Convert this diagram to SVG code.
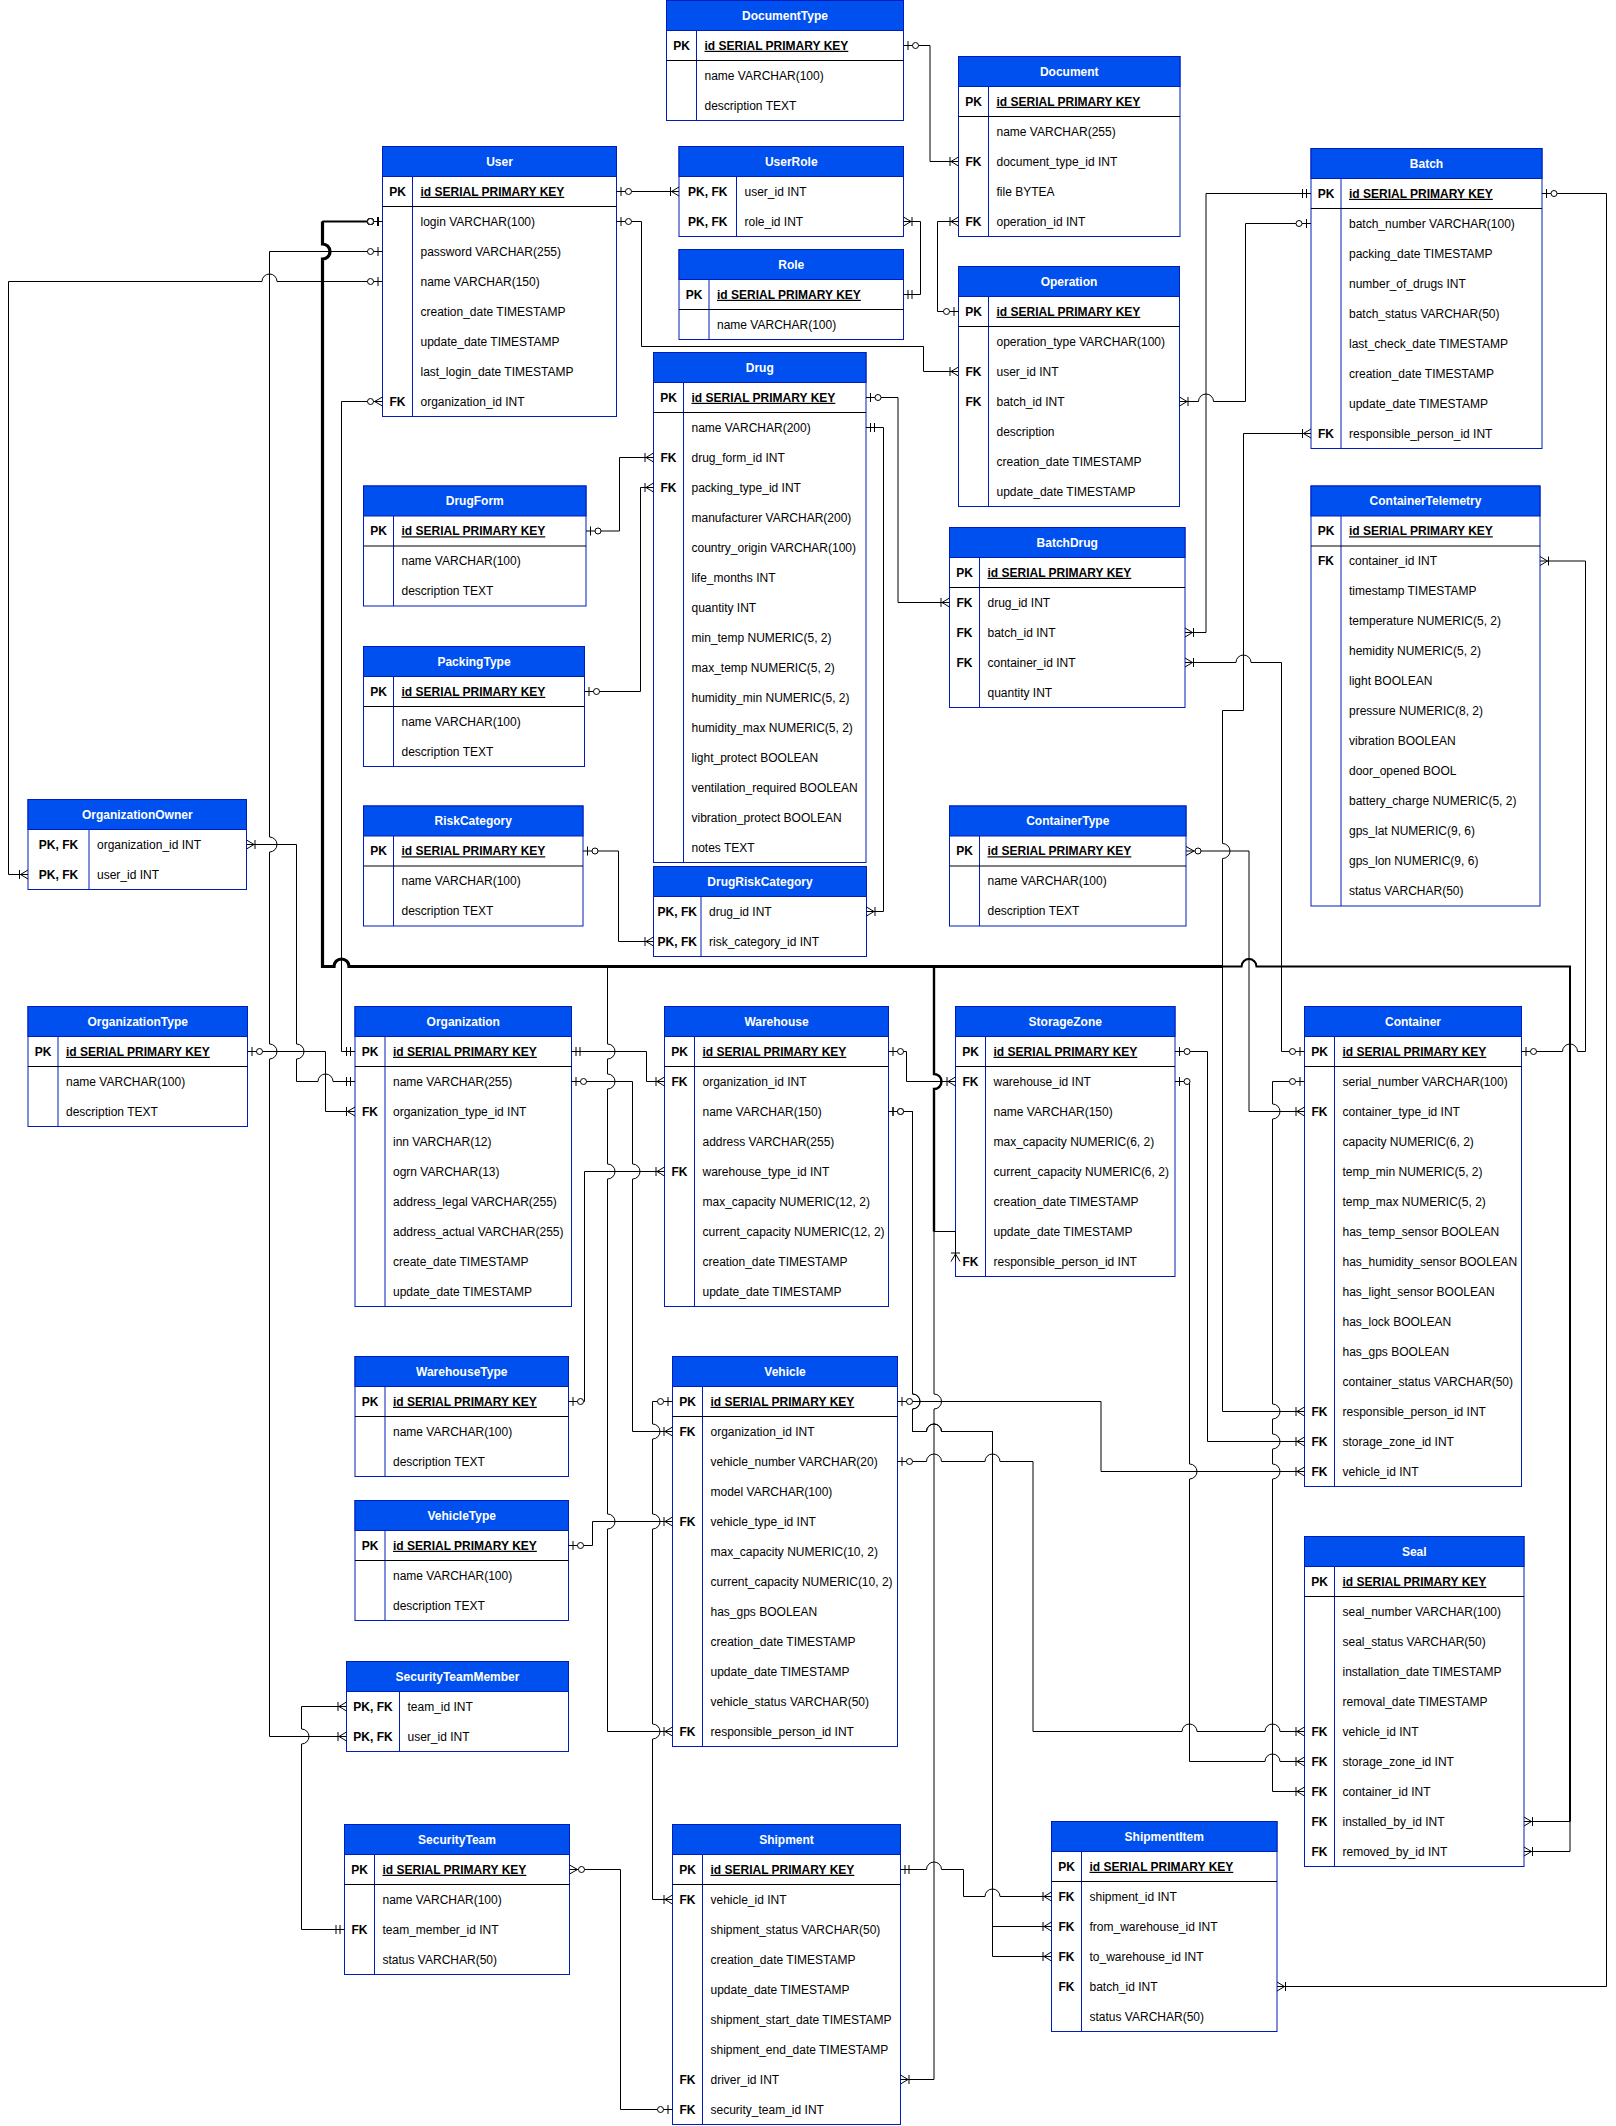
<svg xmlns="http://www.w3.org/2000/svg" width="1616" height="2126" viewBox="0 0 1616 2126">
<style>
.hdr{fill:#0050ef;stroke:#001dbc;stroke-width:1}
.tbl{fill:#fff;stroke:#001dbc;stroke-width:1}
.kd{stroke:#001dbc;stroke-width:1}
.sep{stroke:#000;stroke-width:1}
text{font-family:"Liberation Sans",Arial,Helvetica,sans-serif;font-size:12px;fill:#000}
.ht{font-weight:bold;fill:#fff;text-anchor:middle}
.k{font-weight:bold;text-anchor:middle}
.pk{font-weight:bold;text-decoration:underline}
.e{fill:none;stroke:#000;stroke-width:1}
.tr{fill:none;stroke:#000}
</style>
<defs>
<marker id="oneOpt" markerWidth="1" markerHeight="1" refX="0" refY="0" orient="auto-start-reverse" markerUnits="userSpaceOnUse" overflow="visible"><path d="M-4.5,-4.5V4.5" fill="none" stroke="#000"/><circle cx="-12" cy="0" r="3" fill="#fff" stroke="#000"/></marker>
<marker id="oneMand" markerWidth="1" markerHeight="1" refX="0" refY="0" orient="auto-start-reverse" markerUnits="userSpaceOnUse" overflow="visible"><path d="M-4.5,-4.5V4.5M-8.5,-4.5V4.5" fill="none" stroke="#000"/></marker>
<marker id="manyMand" markerWidth="1" markerHeight="1" refX="0" refY="0" orient="auto-start-reverse" markerUnits="userSpaceOnUse" overflow="visible"><path d="M0,-4.5L-7.5,0L0,4.5M-8.5,-4.5V4.5" fill="none" stroke="#000"/></marker>
<marker id="manyOpt" markerWidth="1" markerHeight="1" refX="0" refY="0" orient="auto-start-reverse" markerUnits="userSpaceOnUse" overflow="visible"><path d="M0,-4.5L-8,0L0,4.5" fill="none" stroke="#000"/><circle cx="-12" cy="0" r="3" fill="#fff" stroke="#000"/></marker>
</defs>
<rect x="0" y="0" width="1616" height="2126" fill="#fff"/>

<g id="DocumentType">
<rect class="tbl" x="666.5" y="0.5" width="237" height="120"/><rect class="hdr" x="666.5" y="0.5" width="237" height="30"/>
<text class="ht" x="785" y="19.8">DocumentType</text>
<line class="kd" x1="696.5" y1="30.5" x2="696.5" y2="120.5"/><line class="sep" x1="666.5" y1="60.5" x2="903.5" y2="60.5"/>
<text class="k" x="681.5" y="49.8">PK</text><text class="pk" x="704.5" y="49.8">id SERIAL PRIMARY KEY</text>
<text x="704.5" y="79.8">name VARCHAR(100)</text><text x="704.5" y="109.8">description TEXT</text>
</g>

<g id="Document">
<rect class="tbl" x="958.5" y="56.5" width="221.5" height="180"/><rect class="hdr" x="958.5" y="56.5" width="221.5" height="30"/>
<text class="ht" x="1069.25" y="75.8">Document</text>
<line class="kd" x1="988.5" y1="86.5" x2="988.5" y2="236.5"/><line class="sep" x1="958.5" y1="116.5" x2="1180" y2="116.5"/>
<text class="k" x="973.5" y="105.8">PK</text><text class="pk" x="996.5" y="105.8">id SERIAL PRIMARY KEY</text>
<text x="996.5" y="135.8">name VARCHAR(255)</text>
<text class="k" x="973.5" y="165.8">FK</text><text x="996.5" y="165.8">document_type_id INT</text>
<text x="996.5" y="195.8">file BYTEA</text>
<text class="k" x="973.5" y="225.8">FK</text><text x="996.5" y="225.8">operation_id INT</text>
</g>

<g id="User">
<rect class="tbl" x="382.5" y="146.5" width="234" height="270"/><rect class="hdr" x="382.5" y="146.5" width="234" height="30"/>
<text class="ht" x="499.5" y="165.8">User</text>
<line class="kd" x1="412.5" y1="176.5" x2="412.5" y2="416.5"/><line class="sep" x1="382.5" y1="206.5" x2="616.5" y2="206.5"/>
<text class="k" x="397.5" y="195.8">PK</text><text class="pk" x="420.5" y="195.8">id SERIAL PRIMARY KEY</text>
<text x="420.5" y="225.8">login VARCHAR(100)</text>
<text x="420.5" y="255.8">password VARCHAR(255)</text>
<text x="420.5" y="285.8">name VARCHAR(150)</text>
<text x="420.5" y="315.8">creation_date TIMESTAMP</text>
<text x="420.5" y="345.8">update_date TIMESTAMP</text>
<text x="420.5" y="375.8">last_login_date TIMESTAMP</text>
<text class="k" x="397.5" y="405.8">FK</text><text x="420.5" y="405.8">organization_id INT</text>
</g>

<g id="UserRole">
<rect class="tbl" x="679" y="146.5" width="224.5" height="90"/><rect class="hdr" x="679" y="146.5" width="224.5" height="30"/>
<text class="ht" x="791.25" y="165.8">UserRole</text>
<line class="kd" x1="736.5" y1="176.5" x2="736.5" y2="236.5"/>
<text class="k" x="707.75" y="195.8">PK, FK</text><text x="744.5" y="195.8">user_id INT</text>
<text class="k" x="707.75" y="225.8">PK, FK</text><text x="744.5" y="225.8">role_id INT</text>
</g>

<g id="Role">
<rect class="tbl" x="679" y="249.5" width="224.5" height="90"/><rect class="hdr" x="679" y="249.5" width="224.5" height="30"/>
<text class="ht" x="791.25" y="268.8">Role</text>
<line class="kd" x1="709" y1="279.5" x2="709" y2="339.5"/><line class="sep" x1="679" y1="309.5" x2="903.5" y2="309.5"/>
<text class="k" x="694" y="298.8">PK</text><text class="pk" x="717" y="298.8">id SERIAL PRIMARY KEY</text>
<text x="717" y="328.8">name VARCHAR(100)</text>
</g>

<g id="Operation">
<rect class="tbl" x="958.5" y="266.5" width="221" height="240"/><rect class="hdr" x="958.5" y="266.5" width="221" height="30"/>
<text class="ht" x="1069" y="285.8">Operation</text>
<line class="kd" x1="988.5" y1="296.5" x2="988.5" y2="506.5"/><line class="sep" x1="958.5" y1="326.5" x2="1179.5" y2="326.5"/>
<text class="k" x="973.5" y="315.8">PK</text><text class="pk" x="996.5" y="315.8">id SERIAL PRIMARY KEY</text>
<text x="996.5" y="345.8">operation_type VARCHAR(100)</text>
<text class="k" x="973.5" y="375.8">FK</text><text x="996.5" y="375.8">user_id INT</text>
<text class="k" x="973.5" y="405.8">FK</text><text x="996.5" y="405.8">batch_id INT</text>
<text x="996.5" y="435.8">description</text>
<text x="996.5" y="465.8">creation_date TIMESTAMP</text>
<text x="996.5" y="495.8">update_date TIMESTAMP</text>
</g>

<g id="Batch">
<rect class="tbl" x="1311" y="148.5" width="231" height="300"/><rect class="hdr" x="1311" y="148.5" width="231" height="30"/>
<text class="ht" x="1426.5" y="167.8">Batch</text>
<line class="kd" x1="1341" y1="178.5" x2="1341" y2="448.5"/><line class="sep" x1="1311" y1="208.5" x2="1542" y2="208.5"/>
<text class="k" x="1326" y="197.8">PK</text><text class="pk" x="1349" y="197.8">id SERIAL PRIMARY KEY</text>
<text x="1349" y="227.8">batch_number VARCHAR(100)</text>
<text x="1349" y="257.8">packing_date TIMESTAMP</text>
<text x="1349" y="287.8">number_of_drugs INT</text>
<text x="1349" y="317.8">batch_status VARCHAR(50)</text>
<text x="1349" y="347.8">last_check_date TIMESTAMP</text>
<text x="1349" y="377.8">creation_date TIMESTAMP</text>
<text x="1349" y="407.8">update_date TIMESTAMP</text>
<text class="k" x="1326" y="437.8">FK</text><text x="1349" y="437.8">responsible_person_id INT</text>
</g>

<g id="Drug">
<rect class="tbl" x="653.5" y="352.5" width="212.5" height="510"/><rect class="hdr" x="653.5" y="352.5" width="212.5" height="30"/>
<text class="ht" x="759.75" y="371.8">Drug</text>
<line class="kd" x1="683.5" y1="382.5" x2="683.5" y2="862.5"/><line class="sep" x1="653.5" y1="412.5" x2="866" y2="412.5"/>
<text class="k" x="668.5" y="401.8">PK</text><text class="pk" x="691.5" y="401.8">id SERIAL PRIMARY KEY</text>
<text x="691.5" y="431.8">name VARCHAR(200)</text>
<text class="k" x="668.5" y="461.8">FK</text><text x="691.5" y="461.8">drug_form_id INT</text>
<text class="k" x="668.5" y="491.8">FK</text><text x="691.5" y="491.8">packing_type_id INT</text>
<text x="691.5" y="521.8">manufacturer VARCHAR(200)</text>
<text x="691.5" y="551.8">country_origin VARCHAR(100)</text>
<text x="691.5" y="581.8">life_months INT</text>
<text x="691.5" y="611.8">quantity INT</text>
<text x="691.5" y="641.8">min_temp NUMERIC(5, 2)</text>
<text x="691.5" y="671.8">max_temp NUMERIC(5, 2)</text>
<text x="691.5" y="701.8">humidity_min NUMERIC(5, 2)</text>
<text x="691.5" y="731.8">humidity_max NUMERIC(5, 2)</text>
<text x="691.5" y="761.8">light_protect BOOLEAN</text>
<text x="691.5" y="791.8">ventilation_required BOOLEAN</text>
<text x="691.5" y="821.8">vibration_protect BOOLEAN</text>
<text x="691.5" y="851.8">notes TEXT</text>
</g>

<g id="DrugForm">
<rect class="tbl" x="363.5" y="486" width="222.5" height="120"/><rect class="hdr" x="363.5" y="486" width="222.5" height="30"/>
<text class="ht" x="474.75" y="505.3">DrugForm</text>
<line class="kd" x1="393.5" y1="516" x2="393.5" y2="606"/><line class="sep" x1="363.5" y1="546" x2="586" y2="546"/>
<text class="k" x="378.5" y="535.3">PK</text><text class="pk" x="401.5" y="535.3">id SERIAL PRIMARY KEY</text>
<text x="401.5" y="565.3">name VARCHAR(100)</text><text x="401.5" y="595.3">description TEXT</text>
</g>

<g id="PackingType">
<rect class="tbl" x="363.5" y="646.5" width="221" height="120"/><rect class="hdr" x="363.5" y="646.5" width="221" height="30"/>
<text class="ht" x="474" y="665.8">PackingType</text>
<line class="kd" x1="393.5" y1="676.5" x2="393.5" y2="766.5"/><line class="sep" x1="363.5" y1="706.5" x2="584.5" y2="706.5"/>
<text class="k" x="378.5" y="695.8">PK</text><text class="pk" x="401.5" y="695.8">id SERIAL PRIMARY KEY</text>
<text x="401.5" y="725.8">name VARCHAR(100)</text><text x="401.5" y="755.8">description TEXT</text>
</g>

<g id="RiskCategory">
<rect class="tbl" x="363.5" y="806" width="219.5" height="120"/><rect class="hdr" x="363.5" y="806" width="219.5" height="30"/>
<text class="ht" x="473.25" y="825.3">RiskCategory</text>
<line class="kd" x1="393.5" y1="836" x2="393.5" y2="926"/><line class="sep" x1="363.5" y1="866" x2="583" y2="866"/>
<text class="k" x="378.5" y="855.3">PK</text><text class="pk" x="401.5" y="855.3">id SERIAL PRIMARY KEY</text>
<text x="401.5" y="885.3">name VARCHAR(100)</text><text x="401.5" y="915.3">description TEXT</text>
</g>

<g id="DrugRiskCategory">
<rect class="tbl" x="653.5" y="866.5" width="213" height="90"/><rect class="hdr" x="653.5" y="866.5" width="213" height="30"/>
<text class="ht" x="760" y="885.8">DrugRiskCategory</text>
<line class="kd" x1="701" y1="896.5" x2="701" y2="956.5"/>
<text class="k" x="677.25" y="915.8">PK, FK</text><text x="709" y="915.8">drug_id INT</text>
<text class="k" x="677.25" y="945.8">PK, FK</text><text x="709" y="945.8">risk_category_id INT</text>
</g>

<g id="BatchDrug">
<rect class="tbl" x="949.5" y="527.5" width="235.5" height="180"/><rect class="hdr" x="949.5" y="527.5" width="235.5" height="30"/>
<text class="ht" x="1067.25" y="546.8">BatchDrug</text>
<line class="kd" x1="979.5" y1="557.5" x2="979.5" y2="707.5"/><line class="sep" x1="949.5" y1="587.5" x2="1185" y2="587.5"/>
<text class="k" x="964.5" y="576.8">PK</text><text class="pk" x="987.5" y="576.8">id SERIAL PRIMARY KEY</text>
<text class="k" x="964.5" y="606.8">FK</text><text x="987.5" y="606.8">drug_id INT</text>
<text class="k" x="964.5" y="636.8">FK</text><text x="987.5" y="636.8">batch_id INT</text>
<text class="k" x="964.5" y="666.8">FK</text><text x="987.5" y="666.8">container_id INT</text>
<text x="987.5" y="696.8">quantity INT</text>
</g>

<g id="ContainerTelemetry">
<rect class="tbl" x="1311" y="486" width="229" height="420"/><rect class="hdr" x="1311" y="486" width="229" height="30"/>
<text class="ht" x="1425.5" y="505.3">ContainerTelemetry</text>
<line class="kd" x1="1341" y1="516" x2="1341" y2="906"/><line class="sep" x1="1311" y1="546" x2="1540" y2="546"/>
<text class="k" x="1326" y="535.3">PK</text><text class="pk" x="1349" y="535.3">id SERIAL PRIMARY KEY</text>
<text class="k" x="1326" y="565.3">FK</text><text x="1349" y="565.3">container_id INT</text>
<text x="1349" y="595.3">timestamp TIMESTAMP</text>
<text x="1349" y="625.3">temperature NUMERIC(5, 2)</text>
<text x="1349" y="655.3">hemidity NUMERIC(5, 2)</text>
<text x="1349" y="685.3">light BOOLEAN</text>
<text x="1349" y="715.3">pressure NUMERIC(8, 2)</text>
<text x="1349" y="745.3">vibration BOOLEAN</text>
<text x="1349" y="775.3">door_opened BOOL</text>
<text x="1349" y="805.3">battery_charge NUMERIC(5, 2)</text>
<text x="1349" y="835.3">gps_lat NUMERIC(9, 6)</text>
<text x="1349" y="865.3">gps_lon NUMERIC(9, 6)</text>
<text x="1349" y="895.3">status VARCHAR(50)</text>
</g>

<g id="ContainerType">
<rect class="tbl" x="949.5" y="806" width="236.5" height="120"/><rect class="hdr" x="949.5" y="806" width="236.5" height="30"/>
<text class="ht" x="1067.75" y="825.3">ContainerType</text>
<line class="kd" x1="979.5" y1="836" x2="979.5" y2="926"/><line class="sep" x1="949.5" y1="866" x2="1186" y2="866"/>
<text class="k" x="964.5" y="855.3">PK</text><text class="pk" x="987.5" y="855.3">id SERIAL PRIMARY KEY</text>
<text x="987.5" y="885.3">name VARCHAR(100)</text><text x="987.5" y="915.3">description TEXT</text>
</g>

<g id="OrganizationOwner">
<rect class="tbl" x="28" y="799.5" width="218.5" height="90"/><rect class="hdr" x="28" y="799.5" width="218.5" height="30"/>
<text class="ht" x="137.25" y="818.8">OrganizationOwner</text>
<line class="kd" x1="89" y1="829.5" x2="89" y2="889.5"/>
<text class="k" x="58.5" y="848.8">PK, FK</text><text x="97" y="848.8">organization_id INT</text>
<text class="k" x="58.5" y="878.8">PK, FK</text><text x="97" y="878.8">user_id INT</text>
</g>

<g id="OrganizationType">
<rect class="tbl" x="28" y="1006.5" width="219.5" height="120"/><rect class="hdr" x="28" y="1006.5" width="219.5" height="30"/>
<text class="ht" x="137.75" y="1025.8">OrganizationType</text>
<line class="kd" x1="58" y1="1036.5" x2="58" y2="1126.5"/><line class="sep" x1="28" y1="1066.5" x2="247.5" y2="1066.5"/>
<text class="k" x="43" y="1055.8">PK</text><text class="pk" x="66" y="1055.8">id SERIAL PRIMARY KEY</text>
<text x="66" y="1085.8">name VARCHAR(100)</text><text x="66" y="1115.8">description TEXT</text>
</g>

<g id="Organization">
<rect class="tbl" x="355" y="1006.5" width="216.5" height="300"/><rect class="hdr" x="355" y="1006.5" width="216.5" height="30"/>
<text class="ht" x="463.25" y="1025.8">Organization</text>
<line class="kd" x1="385" y1="1036.5" x2="385" y2="1306.5"/><line class="sep" x1="355" y1="1066.5" x2="571.5" y2="1066.5"/>
<text class="k" x="370" y="1055.8">PK</text><text class="pk" x="393" y="1055.8">id SERIAL PRIMARY KEY</text>
<text x="393" y="1085.8">name VARCHAR(255)</text>
<text class="k" x="370" y="1115.8">FK</text><text x="393" y="1115.8">organization_type_id INT</text>
<text x="393" y="1145.8">inn VARCHAR(12)</text>
<text x="393" y="1175.8">ogrn VARCHAR(13)</text>
<text x="393" y="1205.8">address_legal VARCHAR(255)</text>
<text x="393" y="1235.8">address_actual VARCHAR(255)</text>
<text x="393" y="1265.8">create_date TIMESTAMP</text>
<text x="393" y="1295.8">update_date TIMESTAMP</text>
</g>

<g id="Warehouse">
<rect class="tbl" x="664.5" y="1006.5" width="224" height="300"/><rect class="hdr" x="664.5" y="1006.5" width="224" height="30"/>
<text class="ht" x="776.5" y="1025.8">Warehouse</text>
<line class="kd" x1="694.5" y1="1036.5" x2="694.5" y2="1306.5"/><line class="sep" x1="664.5" y1="1066.5" x2="888.5" y2="1066.5"/>
<text class="k" x="679.5" y="1055.8">PK</text><text class="pk" x="702.5" y="1055.8">id SERIAL PRIMARY KEY</text>
<text class="k" x="679.5" y="1085.8">FK</text><text x="702.5" y="1085.8">organization_id INT</text>
<text x="702.5" y="1115.8">name VARCHAR(150)</text>
<text x="702.5" y="1145.8">address VARCHAR(255)</text>
<text class="k" x="679.5" y="1175.8">FK</text><text x="702.5" y="1175.8">warehouse_type_id INT</text>
<text x="702.5" y="1205.8">max_capacity NUMERIC(12, 2)</text>
<text x="702.5" y="1235.8">current_capacity NUMERIC(12, 2)</text>
<text x="702.5" y="1265.8">creation_date TIMESTAMP</text>
<text x="702.5" y="1295.8">update_date TIMESTAMP</text>
</g>

<g id="StorageZone">
<rect class="tbl" x="955.5" y="1006.5" width="219.5" height="270"/><rect class="hdr" x="955.5" y="1006.5" width="219.5" height="30"/>
<text class="ht" x="1065.25" y="1025.8">StorageZone</text>
<line class="kd" x1="985.5" y1="1036.5" x2="985.5" y2="1276.5"/><line class="sep" x1="955.5" y1="1066.5" x2="1175" y2="1066.5"/>
<text class="k" x="970.5" y="1055.8">PK</text><text class="pk" x="993.5" y="1055.8">id SERIAL PRIMARY KEY</text>
<text class="k" x="970.5" y="1085.8">FK</text><text x="993.5" y="1085.8">warehouse_id INT</text>
<text x="993.5" y="1115.8">name VARCHAR(150)</text>
<text x="993.5" y="1145.8">max_capacity NUMERIC(6, 2)</text>
<text x="993.5" y="1175.8">current_capacity NUMERIC(6, 2)</text>
<text x="993.5" y="1205.8">creation_date TIMESTAMP</text>
<text x="993.5" y="1235.8">update_date TIMESTAMP</text>
<text class="k" x="970.5" y="1265.8">FK</text><text x="993.5" y="1265.8">responsible_person_id INT</text>
</g>

<g id="Container">
<rect class="tbl" x="1304.5" y="1006.5" width="217" height="480"/><rect class="hdr" x="1304.5" y="1006.5" width="217" height="30"/>
<text class="ht" x="1413" y="1025.8">Container</text>
<line class="kd" x1="1334.5" y1="1036.5" x2="1334.5" y2="1486.5"/><line class="sep" x1="1304.5" y1="1066.5" x2="1521.5" y2="1066.5"/>
<text class="k" x="1319.5" y="1055.8">PK</text><text class="pk" x="1342.5" y="1055.8">id SERIAL PRIMARY KEY</text>
<text x="1342.5" y="1085.8">serial_number VARCHAR(100)</text>
<text class="k" x="1319.5" y="1115.8">FK</text><text x="1342.5" y="1115.8">container_type_id INT</text>
<text x="1342.5" y="1145.8">capacity NUMERIC(6, 2)</text>
<text x="1342.5" y="1175.8">temp_min NUMERIC(5, 2)</text>
<text x="1342.5" y="1205.8">temp_max NUMERIC(5, 2)</text>
<text x="1342.5" y="1235.8">has_temp_sensor BOOLEAN</text>
<text x="1342.5" y="1265.8">has_humidity_sensor BOOLEAN</text>
<text x="1342.5" y="1295.8">has_light_sensor BOOLEAN</text>
<text x="1342.5" y="1325.8">has_lock BOOLEAN</text>
<text x="1342.5" y="1355.8">has_gps BOOLEAN</text>
<text x="1342.5" y="1385.8">container_status VARCHAR(50)</text>
<text class="k" x="1319.5" y="1415.8">FK</text><text x="1342.5" y="1415.8">responsible_person_id INT</text>
<text class="k" x="1319.5" y="1445.8">FK</text><text x="1342.5" y="1445.8">storage_zone_id INT</text>
<text class="k" x="1319.5" y="1475.8">FK</text><text x="1342.5" y="1475.8">vehicle_id INT</text>
</g>

<g id="WarehouseType">
<rect class="tbl" x="355" y="1356.5" width="213.5" height="120"/><rect class="hdr" x="355" y="1356.5" width="213.5" height="30"/>
<text class="ht" x="461.75" y="1375.8">WarehouseType</text>
<line class="kd" x1="385" y1="1386.5" x2="385" y2="1476.5"/><line class="sep" x1="355" y1="1416.5" x2="568.5" y2="1416.5"/>
<text class="k" x="370" y="1405.8">PK</text><text class="pk" x="393" y="1405.8">id SERIAL PRIMARY KEY</text>
<text x="393" y="1435.8">name VARCHAR(100)</text><text x="393" y="1465.8">description TEXT</text>
</g>

<g id="VehicleType">
<rect class="tbl" x="355" y="1500.5" width="213.5" height="120"/><rect class="hdr" x="355" y="1500.5" width="213.5" height="30"/>
<text class="ht" x="461.75" y="1519.8">VehicleType</text>
<line class="kd" x1="385" y1="1530.5" x2="385" y2="1620.5"/><line class="sep" x1="355" y1="1560.5" x2="568.5" y2="1560.5"/>
<text class="k" x="370" y="1549.8">PK</text><text class="pk" x="393" y="1549.8">id SERIAL PRIMARY KEY</text>
<text x="393" y="1579.8">name VARCHAR(100)</text><text x="393" y="1609.8">description TEXT</text>
</g>

<g id="Vehicle">
<rect class="tbl" x="672.5" y="1356.5" width="225" height="390"/><rect class="hdr" x="672.5" y="1356.5" width="225" height="30"/>
<text class="ht" x="785" y="1375.8">Vehicle</text>
<line class="kd" x1="702.5" y1="1386.5" x2="702.5" y2="1746.5"/><line class="sep" x1="672.5" y1="1416.5" x2="897.5" y2="1416.5"/>
<text class="k" x="687.5" y="1405.8">PK</text><text class="pk" x="710.5" y="1405.8">id SERIAL PRIMARY KEY</text>
<text class="k" x="687.5" y="1435.8">FK</text><text x="710.5" y="1435.8">organization_id INT</text>
<text x="710.5" y="1465.8">vehicle_number VARCHAR(20)</text>
<text x="710.5" y="1495.8">model VARCHAR(100)</text>
<text class="k" x="687.5" y="1525.8">FK</text><text x="710.5" y="1525.8">vehicle_type_id INT</text>
<text x="710.5" y="1555.8">max_capacity NUMERIC(10, 2)</text>
<text x="710.5" y="1585.8">current_capacity NUMERIC(10, 2)</text>
<text x="710.5" y="1615.8">has_gps BOOLEAN</text>
<text x="710.5" y="1645.8">creation_date TIMESTAMP</text>
<text x="710.5" y="1675.8">update_date TIMESTAMP</text>
<text x="710.5" y="1705.8">vehicle_status VARCHAR(50)</text>
<text class="k" x="687.5" y="1735.8">FK</text><text x="710.5" y="1735.8">responsible_person_id INT</text>
</g>

<g id="Seal">
<rect class="tbl" x="1304.5" y="1536.5" width="219.5" height="330"/><rect class="hdr" x="1304.5" y="1536.5" width="219.5" height="30"/>
<text class="ht" x="1414.25" y="1555.8">Seal</text>
<line class="kd" x1="1334.5" y1="1566.5" x2="1334.5" y2="1866.5"/><line class="sep" x1="1304.5" y1="1596.5" x2="1524" y2="1596.5"/>
<text class="k" x="1319.5" y="1585.8">PK</text><text class="pk" x="1342.5" y="1585.8">id SERIAL PRIMARY KEY</text>
<text x="1342.5" y="1615.8">seal_number VARCHAR(100)</text>
<text x="1342.5" y="1645.8">seal_status VARCHAR(50)</text>
<text x="1342.5" y="1675.8">installation_date TIMESTAMP</text>
<text x="1342.5" y="1705.8">removal_date TIMESTAMP</text>
<text class="k" x="1319.5" y="1735.8">FK</text><text x="1342.5" y="1735.8">vehicle_id INT</text>
<text class="k" x="1319.5" y="1765.8">FK</text><text x="1342.5" y="1765.8">storage_zone_id INT</text>
<text class="k" x="1319.5" y="1795.8">FK</text><text x="1342.5" y="1795.8">container_id INT</text>
<text class="k" x="1319.5" y="1825.8">FK</text><text x="1342.5" y="1825.8">installed_by_id INT</text>
<text class="k" x="1319.5" y="1855.8">FK</text><text x="1342.5" y="1855.8">removed_by_id INT</text>
</g>

<g id="SecurityTeamMember">
<rect class="tbl" x="346.5" y="1661.5" width="222" height="90"/><rect class="hdr" x="346.5" y="1661.5" width="222" height="30"/>
<text class="ht" x="457.5" y="1680.8">SecurityTeamMember</text>
<line class="kd" x1="399.5" y1="1691.5" x2="399.5" y2="1751.5"/>
<text class="k" x="373" y="1710.8">PK, FK</text><text x="407.5" y="1710.8">team_id INT</text>
<text class="k" x="373" y="1740.8">PK, FK</text><text x="407.5" y="1740.8">user_id INT</text>
</g>

<g id="SecurityTeam">
<rect class="tbl" x="344.5" y="1824.5" width="225" height="150"/><rect class="hdr" x="344.5" y="1824.5" width="225" height="30"/>
<text class="ht" x="457" y="1843.8">SecurityTeam</text>
<line class="kd" x1="374.5" y1="1854.5" x2="374.5" y2="1974.5"/><line class="sep" x1="344.5" y1="1884.5" x2="569.5" y2="1884.5"/>
<text class="k" x="359.5" y="1873.8">PK</text><text class="pk" x="382.5" y="1873.8">id SERIAL PRIMARY KEY</text>
<text x="382.5" y="1903.8">name VARCHAR(100)</text>
<text class="k" x="359.5" y="1933.8">FK</text><text x="382.5" y="1933.8">team_member_id INT</text>
<text x="382.5" y="1963.8">status VARCHAR(50)</text>
</g>

<g id="Shipment">
<rect class="tbl" x="672.5" y="1824.5" width="228" height="300"/><rect class="hdr" x="672.5" y="1824.5" width="228" height="30"/>
<text class="ht" x="786.5" y="1843.8">Shipment</text>
<line class="kd" x1="702.5" y1="1854.5" x2="702.5" y2="2124.5"/><line class="sep" x1="672.5" y1="1884.5" x2="900.5" y2="1884.5"/>
<text class="k" x="687.5" y="1873.8">PK</text><text class="pk" x="710.5" y="1873.8">id SERIAL PRIMARY KEY</text>
<text class="k" x="687.5" y="1903.8">FK</text><text x="710.5" y="1903.8">vehicle_id INT</text>
<text x="710.5" y="1933.8">shipment_status VARCHAR(50)</text>
<text x="710.5" y="1963.8">creation_date TIMESTAMP</text>
<text x="710.5" y="1993.8">update_date TIMESTAMP</text>
<text x="710.5" y="2023.8">shipment_start_date TIMESTAMP</text>
<text x="710.5" y="2053.8">shipment_end_date TIMESTAMP</text>
<text class="k" x="687.5" y="2083.8">FK</text><text x="710.5" y="2083.8">driver_id INT</text>
<text class="k" x="687.5" y="2113.8">FK</text><text x="710.5" y="2113.8">security_team_id INT</text>
</g>

<g id="ShipmentItem">
<rect class="tbl" x="1051.5" y="1821.5" width="225.5" height="210"/><rect class="hdr" x="1051.5" y="1821.5" width="225.5" height="30"/>
<text class="ht" x="1164.25" y="1840.8">ShipmentItem</text>
<line class="kd" x1="1081.5" y1="1851.5" x2="1081.5" y2="2031.5"/><line class="sep" x1="1051.5" y1="1881.5" x2="1277" y2="1881.5"/>
<text class="k" x="1066.5" y="1870.8">PK</text><text class="pk" x="1089.5" y="1870.8">id SERIAL PRIMARY KEY</text>
<text class="k" x="1066.5" y="1900.8">FK</text><text x="1089.5" y="1900.8">shipment_id INT</text>
<text class="k" x="1066.5" y="1930.8">FK</text><text x="1089.5" y="1930.8">from_warehouse_id INT</text>
<text class="k" x="1066.5" y="1960.8">FK</text><text x="1089.5" y="1960.8">to_warehouse_id INT</text>
<text class="k" x="1066.5" y="1990.8">FK</text><text x="1089.5" y="1990.8">batch_id INT</text>
<text x="1089.5" y="2020.8">status VARCHAR(50)</text>
</g>

<g id="connectors">
<path class="tr" stroke-width="2" d="M368,221.5 H322.5"/>
<path class="tr" stroke-width="3.2" d="M322.5,221.5 V244 A7.5,7.5 0 0 1 322.5,259 V966.5 H334 A7.5,7.5 0 0 1 349,966.5 H1222.5"/>
<path class="tr" stroke-width="2.4" d="M934,966.5 V1074 A7.5,7.5 0 0 1 934,1089 V1231.5"/>
<path class="tr" stroke-width="2" d="M1222.5,966.5 H1241.5 A7.5,7.5 0 0 1 1256.5,966.5 H1570 V1821.5"/>

<path class="e" marker-start="url(#oneOpt)" marker-end="url(#manyMand)" d="M382.5,221.5 H322.5 V244 A7.5,7.5 0 0 1 322.5,259 V966.5 H334 A7.5,7.5 0 0 1 349,966.5 H1222.5 V858.5 A7.5,7.5 0 0 0 1222.5,843.5 V710.5 H1243.5 V433.5 H1311"/>
<path class="e" marker-start="url(#oneOpt)" marker-end="url(#manyMand)" d="M382.5,221.5 H322.5 V244 A7.5,7.5 0 0 1 322.5,259 V966.5 H334 A7.5,7.5 0 0 1 349,966.5 H934 V1074 A7.5,7.5 0 0 1 934,1089 V1231.5 H955.5 V1261.5"/>
<path class="e" marker-start="url(#oneOpt)" marker-end="url(#manyMand)" d="M382.5,221.5 H322.5 V244 A7.5,7.5 0 0 1 322.5,259 V966.5 H334 A7.5,7.5 0 0 1 349,966.5 H1222.5 V1411.5 H1304.5"/>
<path class="e" marker-start="url(#oneOpt)" marker-end="url(#manyMand)" d="M382.5,221.5 H322.5 V244 A7.5,7.5 0 0 1 322.5,259 V966.5 H334 A7.5,7.5 0 0 1 349,966.5 H607.5 V1044 A7.5,7.5 0 0 1 607.5,1059 V1074 A7.5,7.5 0 0 1 607.5,1089 V1164 A7.5,7.5 0 0 1 607.5,1179 V1514 A7.5,7.5 0 0 1 607.5,1529 V1731.5 H672.5"/>
<path class="e" marker-start="url(#oneOpt)" marker-end="url(#manyMand)" d="M382.5,221.5 H322.5 V244 A7.5,7.5 0 0 1 322.5,259 V966.5 H334 A7.5,7.5 0 0 1 349,966.5 H934 V1074 A7.5,7.5 0 0 1 934,1089 V1394 A7.5,7.5 0 0 1 934,1409 V2079.5 H900.5"/>
<path class="e" marker-start="url(#oneOpt)" marker-end="url(#manyMand)" d="M382.5,221.5 H322.5 V244 A7.5,7.5 0 0 1 322.5,259 V966.5 H334 A7.5,7.5 0 0 1 349,966.5 H1241.5 A7.5,7.5 0 0 1 1256.5,966.5 H1570 V1821.5 H1524"/>
<path class="e" marker-start="url(#oneOpt)" marker-end="url(#manyMand)" d="M382.5,221.5 H322.5 V244 A7.5,7.5 0 0 1 322.5,259 V966.5 H334 A7.5,7.5 0 0 1 349,966.5 H1241.5 A7.5,7.5 0 0 1 1256.5,966.5 H1570 V1851.5 H1524"/>

<path class="e" marker-start="url(#oneOpt)" marker-end="url(#manyMand)" d="M903.5,45.5 H930 V161.5 H958.5"/>
<path class="e" marker-start="url(#oneOpt)" marker-end="url(#manyMand)" d="M616.5,191.5 H679"/>
<path class="e" marker-start="url(#oneMand)" marker-end="url(#manyMand)" d="M903.5,294.5 H920.5 V221.5 H903.5"/>
<path class="e" marker-start="url(#oneOpt)" marker-end="url(#manyMand)" d="M958.5,311.5 H937.5 V221.5 H958.5"/>
<path class="e" marker-start="url(#oneOpt)" marker-end="url(#manyMand)" d="M616.5,221.5 H641.5 V346.5 H923.5 V371.5 H958.5"/>
<path class="e" marker-start="url(#oneMand)" marker-end="url(#manyMand)" d="M1311,193.5 H1206 V632.5 H1185"/>
<path class="e" marker-start="url(#manyMand)" marker-end="url(#oneOpt)" d="M1179.5,401.5 H1198.5 A7.5,7.5 0 0 1 1213.5,401.5 H1245.5 V223.5 H1311"/>
<path class="e" marker-start="url(#oneOpt)" marker-end="url(#manyMand)" d="M1542,193.5 H1606.5 V1986.5 H1277"/>
<path class="e" marker-start="url(#oneOpt)" marker-end="url(#manyMand)" d="M866,397.5 H898 V602.5 H949.5"/>
<path class="e" marker-start="url(#oneMand)" marker-end="url(#manyMand)" d="M866,427.5 H883.5 V911.5 H866.5"/>
<path class="e" marker-start="url(#oneOpt)" marker-end="url(#manyMand)" d="M586,531 H619.5 V457.5 H653.5"/>
<path class="e" marker-start="url(#oneOpt)" marker-end="url(#manyMand)" d="M584.5,691.5 H640.5 V487.5 H653.5"/>
<path class="e" marker-start="url(#oneOpt)" marker-end="url(#manyMand)" d="M583,851 H618.5 V941.5 H653.5"/>
<path class="e" marker-start="url(#manyMand)" marker-end="url(#oneOpt)" d="M1185,662.5 H1236 A7.5,7.5 0 0 1 1251,662.5 H1281.5 V1051.5 H1304.5"/>
<path class="e" marker-start="url(#manyMand)" marker-end="url(#oneOpt)" d="M1540,561 H1585.5 V1051.5 H1577.5 A7.5,7.5 0 0 0 1562.5,1051.5 H1521.5"/>
<path class="e" marker-start="url(#manyOpt)" marker-end="url(#manyMand)" d="M1186,851 H1249 V1111.5 H1304.5"/>
<path class="e" marker-start="url(#oneOpt)" marker-end="url(#manyMand)" d="M888.5,1051.5 H906.5 V1081.5 H955.5"/>
<path class="e" marker-start="url(#oneOpt)" marker-end="url(#manyMand)" d="M1175,1051.5 H1207.5 V1441.5 H1304.5"/>
<path class="e" marker-start="url(#oneOpt)" marker-end="url(#manyMand)" d="M1175,1081.5 H1189.5 V1464 A7.5,7.5 0 0 1 1189.5,1479 V1761.5 H1265 A7.5,7.5 0 0 1 1280,1761.5 H1304.5"/>
<path class="e" marker-start="url(#oneOpt)" marker-end="url(#manyMand)" d="M1304.5,1081.5 H1272.5 V1104 A7.5,7.5 0 0 1 1272.5,1119 V1404 A7.5,7.5 0 0 1 1272.5,1419 V1434 A7.5,7.5 0 0 1 1272.5,1449 V1464 A7.5,7.5 0 0 1 1272.5,1479 V1791.5 H1304.5"/>
<path class="e" marker-start="url(#oneOpt)" marker-end="url(#manyMand)" d="M897.5,1401.5 H1101 V1471.5 H1304.5"/>
<path class="e" marker-start="url(#oneOpt)" marker-end="url(#manyMand)" d="M897.5,1461.5 H926.5 A7.5,7.5 0 0 1 941.5,1461.5 H985 A7.5,7.5 0 0 1 1000,1461.5 H1033 V1731.5 H1182 A7.5,7.5 0 0 1 1197,1731.5 H1265 A7.5,7.5 0 0 1 1280,1731.5 H1304.5"/>
<path class="e" marker-start="url(#oneOpt)" marker-end="url(#manyMand)" d="M888.5,1111.5 H912.5 V1394 A7.5,7.5 0 0 1 912.5,1409 V1431.5 H926.5 A7.5,7.5 0 0 1 941.5,1431.5 H992.5 V1926.5 H1051.5"/>
<path class="e" marker-start="url(#oneOpt)" marker-end="url(#manyMand)" d="M888.5,1111.5 H912.5 V1394 A7.5,7.5 0 0 1 912.5,1409 V1431.5 H926.5 A7.5,7.5 0 0 1 941.5,1431.5 H992.5 V1956.5 H1051.5"/>
<path class="e" marker-start="url(#oneMand)" marker-end="url(#manyMand)" d="M571.5,1051.5 H646.5 V1081.5 H664.5"/>
<path class="e" marker-start="url(#oneOpt)" marker-end="url(#manyMand)" d="M571.5,1081.5 H632.5 V1164 A7.5,7.5 0 0 1 632.5,1179 V1431.5 H672.5"/>
<path class="e" marker-start="url(#oneOpt)" marker-end="url(#manyMand)" d="M568.5,1401.5 H584.5 V1171.5 H664.5"/>
<path class="e" marker-start="url(#oneOpt)" marker-end="url(#manyMand)" d="M568.5,1545.5 H592.5 V1521.5 H672.5"/>
<path class="e" marker-start="url(#oneOpt)" marker-end="url(#manyMand)" d="M672.5,1401.5 H652.5 V1424 A7.5,7.5 0 0 1 652.5,1439 V1514 A7.5,7.5 0 0 1 652.5,1529 V1724 A7.5,7.5 0 0 1 652.5,1739 V1899.5 H672.5"/>
<path class="e" marker-start="url(#manyOpt)" marker-end="url(#oneOpt)" d="M569.5,1869.5 H620.5 V2109.5 H672.5"/>
<path class="e" marker-start="url(#oneMand)" marker-end="url(#manyMand)" d="M900.5,1869.5 H926.5 A7.5,7.5 0 0 1 941.5,1869.5 H963.5 V1896.5 H985 A7.5,7.5 0 0 1 1000,1896.5 H1051.5"/>
<path class="e" marker-start="url(#manyOpt)" marker-end="url(#oneMand)" d="M382.5,401.5 H341.5 V1051.5 H355"/>
<path class="e" marker-start="url(#oneOpt)" marker-end="url(#manyMand)" d="M247.5,1051.5 H325.5 V1111.5 H355"/>
<path class="e" marker-start="url(#manyMand)" marker-end="url(#oneMand)" d="M246.5,844.5 H296.5 V1044 A7.5,7.5 0 0 1 296.5,1059 V1081.5 H318 A7.5,7.5 0 0 1 333,1081.5 H355"/>
<path class="e" marker-start="url(#oneOpt)" marker-end="url(#manyMand)" d="M382.5,281.5 H277 A7.5,7.5 0 0 0 262,281.5 H8.5 V874.5 H28"/>
<path class="e" marker-start="url(#oneOpt)" marker-end="url(#manyMand)" d="M382.5,251.5 H269.5 V837 A7.5,7.5 0 0 1 269.5,852 V1044 A7.5,7.5 0 0 1 269.5,1059 V1736.5 H346.5"/>
<path class="e" marker-start="url(#oneMand)" marker-end="url(#manyMand)" d="M344.5,1929.5 H301.5 V1744 A7.5,7.5 0 0 0 301.5,1729 V1706.5 H346.5"/>
</g>
</svg>
